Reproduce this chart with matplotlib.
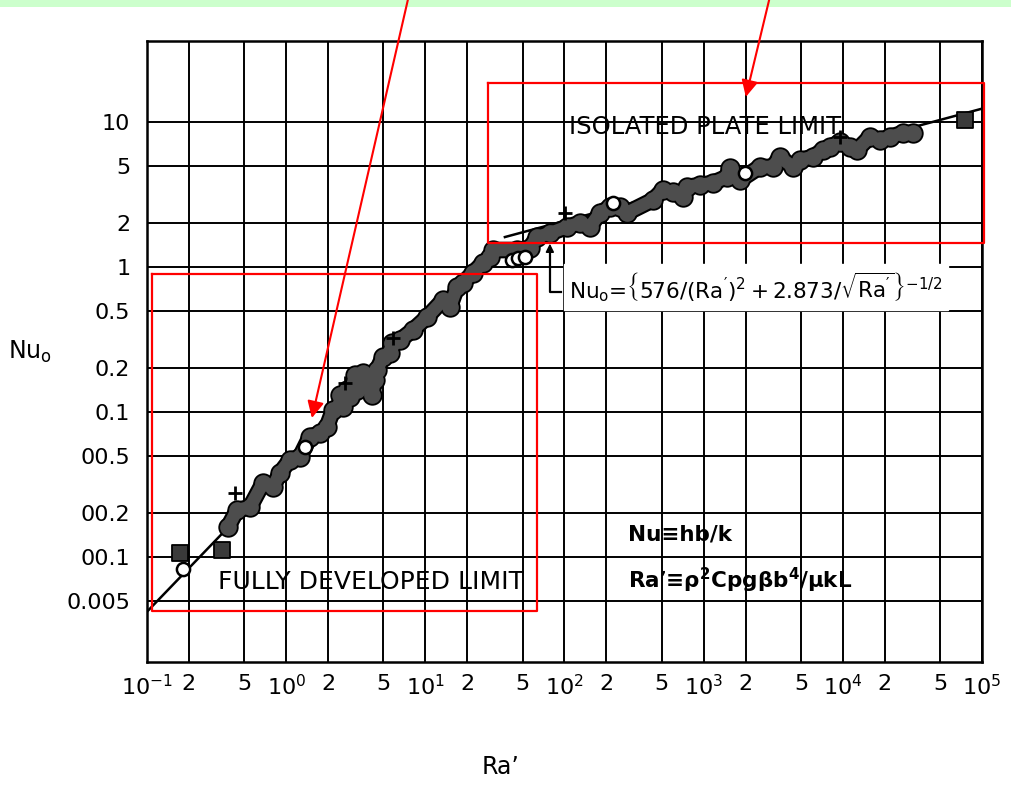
import matplotlib
matplotlib.use('Agg')
import matplotlib.pyplot as plt
from matplotlib.patches import Rectangle

plt.rcParams['font.family'] = ['DejaVu Sans']
plt.rcParams['mathtext.fontset'] = 'dejavusans'
plt.rcParams['mathtext.default'] = 'regular'

# axis ticks, labelled as printed on the scanned chart
nu_ticks = [10, 5, 2, 1, 0.5, 0.2, 0.1, 0.05, 0.02, 0.01, 0.005]
nu_labels = ['10', '5', '2', '1', '0.5', '0.2', '0.1', '00.5', '00.2', '00.1', '0.005']
ra_decades = [0.1, 1, 10, 100, 1e3, 1e4, 1e5]
ra_decade_labels = [r'$10^{-1}$', r'$10^{0}$', r'$10^{1}$', r'$10^{2}$',
                    r'$10^{3}$', r'$10^{4}$', r'$10^{5}$']
ra_minor = [0.2, 0.5, 2, 5, 20, 50, 200, 500, 2e3, 5e3, 2e4, 5e4]
ra_minor_labels = ['2', '5'] * 6

# limit lines (fully developed / isolated plate)
fd_ra = [0.1, 20]
fd_nu = [0.0042, 0.83]
ip_ra = [37.3, 9.8e4]
ip_nu = [1.61, 12.3]

# experimental band (stippled blob)
blob_ra = [0.382, 0.444, 0.55, 0.681, 0.803, 0.902, 1.065, 1.256, 1.48, 1.75,
           1.96, 2.17, 2.44, 2.44, 2.56, 2.73, 2.87, 3.12, 3.23, 3.39, 3.56, 3.8, 4.13,
           4.35, 4.49, 4.96, 5.57, 5.75, 6.58, 8.15, 10.3, 13.4, 15.0, 16.9, 18.6, 22.0,
           25.9, 29.1, 30.6, 45.5, 56.4, 63.4, 78.5, 104, 129, 152, 180, 212, 250, 281,
           432, 509, 601, 709, 757, 939, 1164, 1468, 1542, 1820, 2535, 3141, 3524,
           4375, 4909, 6084, 7182, 8071, 9510, 11220, 12610, 15630, 18450, 21780,
           26980, 31840]
blob_nu = [0.0161, 0.0211, 0.0221, 0.0324, 0.0304, 0.0379, 0.0467, 0.049, 0.0673, 0.0716,
           0.0788, 0.103, 0.112, 0.131, 0.108, 0.142, 0.127, 0.18, 0.142, 0.158, 0.186,
           0.166, 0.131, 0.166, 0.195, 0.239, 0.255, 0.299, 0.314, 0.368, 0.452, 0.592,
           0.53, 0.728, 0.776, 0.91, 1.066, 1.17, 1.31, 1.31, 1.35, 1.61, 1.71, 1.89,
           2.01, 1.89, 2.36, 2.59, 2.59, 2.36,
           2.9, 3.4, 3.29, 3.04, 3.56, 3.68, 3.8, 4.18, 4.82, 3.98, 4.9, 4.9, 5.74,
           4.9, 5.47, 5.74, 6.41, 6.73, 7.28, 6.73, 6.41, 7.88, 7.52, 7.88,
           8.4, 8.4]

circ_ra = [0.182, 1.365, 41.9, 46.2, 52.0, 223, 1977]
circ_nu = [0.00826, 0.0574, 1.12, 1.15, 1.17, 2.76, 4.45]
sq_ra = [0.173, 0.346, 75200]
sq_nu = [0.0107, 0.0112, 10.3]
star_ra = [0.429, 2.64, 5.85, 101, 9510]
star_nu = [0.0276, 0.158, 0.324, 2.36, 7.88]

fig = plt.figure(figsize=(10.12, 7.86), dpi=100)
ax = fig.add_axes([147 / 1012, 124 / 786, 835 / 1012, 621 / 786])
ax.set_xscale('log')
ax.set_yscale('log')
ax.set_xlim(0.1, 1e5)
ax.set_ylim(0.00189, 36.2)

ax.set_xticks(ra_decades, ra_decade_labels)
ax.set_xticks(ra_minor, ra_minor_labels, minor=True)
ax.set_yticks(nu_ticks, nu_labels)
ax.yaxis.set_minor_locator(matplotlib.ticker.NullLocator())
ax.tick_params(which='both', length=0, labelsize=16)
ax.tick_params(axis='x', which='major', pad=9)
ax.tick_params(axis='x', which='minor', pad=9)
ax.tick_params(axis='y', pad=12)
ax.grid(True, which='both', color='black', lw=1.4)
for s in ax.spines.values():
    s.set_linewidth(1.8)

ax.set_ylabel(r'Nu$_{\mathrm{o}}$', rotation=0, fontsize=17)
ax.yaxis.set_label_coords(-0.14, 0.478)
ax.set_xlabel("Ra’", fontsize=17)
ax.xaxis.set_label_coords(0.423, -0.150)

ax.plot(fd_ra, fd_nu, color='black', lw=1.8, zorder=3)
ax.plot(ip_ra, ip_nu, color='black', lw=1.8, zorder=3)

# blob: black outline layer, then grey fill layer
ax.plot(blob_ra, blob_nu, color='black', lw=12, solid_capstyle='round',
        solid_joinstyle='round', zorder=4)
ax.scatter(blob_ra, blob_nu, s=215, marker='o', color='black', lw=0, zorder=4)
ax.plot(blob_ra, blob_nu, color='#4d4d4d', lw=9, solid_capstyle='round',
        solid_joinstyle='round', zorder=4.5)
ax.scatter(blob_ra, blob_nu, s=145, marker='o', color='#4d4d4d', lw=0, zorder=4.5)

ax.scatter(sq_ra, sq_nu, s=130, marker='s', facecolor='#3a3a3a',
           edgecolor='black', lw=1.3, zorder=5)
ax.scatter(circ_ra, circ_nu, s=90, marker='o', facecolor='white',
           edgecolor='black', lw=1.8, zorder=6)
ax.scatter(star_ra, star_nu, s=90, marker='+', color='black', lw=2, zorder=6)

ax.text(107, 9.24, 'ISOLATED PLATE LIMIT', fontsize=17.5, va='center', ha='left')
ax.text(0.324, 0.00673, 'FULLY DEVELOPED LIMIT', fontsize=18, va='center', ha='left')
ax.text(285, 0.0144, 'Nu≡hb/k', fontsize=15.5, fontweight='bold', va='center', ha='left')
ax.text(285, 0.00693, r"Ra’≡$\rho^2$Cpg$\beta$b$^4$/$\mu$kL", fontsize=15.5,
        fontweight='bold', va='center', ha='left')
ax.text(108, 0.728, r"Nu$_\mathrm{o}$=$\left\{576/(Ra')^2+2.873/\sqrt{Ra'}\right\}^{-1/2}$",
        fontsize=15.5, va='center', ha='left', backgroundcolor='white')
ax.plot([78.5, 78.5, 94], [1.35, 0.673, 0.673], color='black', lw=1.6, zorder=3)
ax.annotate('', xy=(78.5, 1.45), xytext=(78.5, 1.1),
            arrowprops=dict(arrowstyle='-|>', color='black', lw=1.2,
                            mutation_scale=12, shrinkA=0, shrinkB=0))

# red highlight boxes and arrows
box1 = ([28.2, 1.03e5, 1.03e5, 28.2, 28.2], [18.6, 18.6, 1.46, 1.46, 18.6])
box2 = ([0.109, 63.4, 63.4, 0.109, 0.109], [0.895, 0.895, 0.00425, 0.00425, 0.895])
for bx, by in (box1, box2):
    ax.plot(bx, by, color='red', lw=1.6, clip_on=False, zorder=7)
ax.annotate('', xy=(1.53, 0.091), xytext=(0.403, 1.0), textcoords='figure fraction',
            arrowprops=dict(arrowstyle='-|>', color='red', lw=1.5, mutation_scale=25,
                            shrinkA=0, shrinkB=0), annotation_clip=False, zorder=8)
ax.annotate('', xy=(2009, 14.9), xytext=(0.760, 1.0), textcoords='figure fraction',
            arrowprops=dict(arrowstyle='-|>', color='red', lw=1.5, mutation_scale=25,
                            shrinkA=0, shrinkB=0), annotation_clip=False, zorder=8)

fig.add_artist(Rectangle((0, 1 - 7 / 786), 1, 7 / 786, transform=fig.transFigure,
                         facecolor='#ccffcc', edgecolor='none', zorder=0))

fig.savefig('out.png', dpi=100)
